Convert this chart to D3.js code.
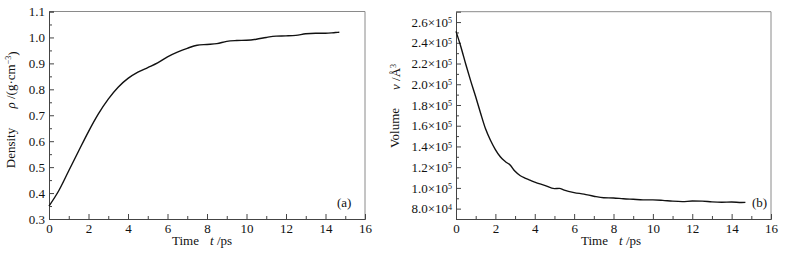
<!DOCTYPE html>
<html>
<head>
<meta charset="utf-8">
<script src="https://cdn.jsdelivr.net/npm/d3@7"></script>
<style>
    body { margin: 0; background: #fff; }
    svg text { font-family: "Liberation Serif", "Times New Roman", Times, serif; fill: #111; }
</style>
</head>
<body>
<svg id="chart" width="787" height="258"></svg>
<script>
(() => {

    // data
    const density_time = [0, 0.5, 1, 1.5, 2, 2.5, 3, 3.5, 4, 4.5, 5, 5.5, 6, 6.5, 7, 7.5, 8, 8.5, 9, 9.5, 10, 10.5, 11, 11.5, 12, 12.5, 13, 13.5, 14, 14.5, 14.7];
    const density_value = [0.350, 0.410, 0.486, 0.562, 0.637, 0.705, 0.762, 0.808, 0.842, 0.866, 0.884, 0.902, 0.925, 0.943, 0.958, 0.970, 0.973, 0.976, 0.985, 0.988, 0.989, 0.993, 1.000, 1.005, 1.006, 1.008, 1.014, 1.016, 1.016, 1.019, 1.020];

    const volume_time = [0, 0.25, 0.5, 0.75, 1, 1.25, 1.5, 1.75, 2, 2.25, 2.5, 2.75, 3, 3.25, 3.5, 3.75, 4, 4.5, 5, 5.25, 5.5, 6, 6.5, 7, 7.5, 8, 8.5, 9, 9.5, 10, 10.5, 11, 11.5, 12, 12.5, 13, 13.5, 14, 14.5, 14.7];
    const volume_value = [251000, 236000, 219000, 203000, 188000, 172000, 157000, 146000, 137000, 130000, 125500, 122000, 116000, 112000, 109500, 107500, 105500, 102500, 99300, 99500, 97800, 95500, 94000, 92000, 90500, 90300, 89500, 89000, 88500, 88500, 88000, 87200, 86800, 87300, 87200, 86500, 86200, 86400, 85900, 86000];

    const x_major = [0, 2, 4, 6, 8, 10, 12, 14, 16];
    const x_minor = [1, 3, 5, 7, 9, 11, 13, 15];
    const density_major = [0.3, 0.4, 0.5, 0.6, 0.7, 0.8, 0.9, 1.0, 1.1];
    const density_minor = [0.35, 0.45, 0.55, 0.65, 0.75, 0.85, 0.95, 1.05];
    const volume_major = [80000, 100000, 120000, 140000, 160000, 180000, 200000, 220000, 240000, 260000];
    const volume_minor = [70000, 90000, 110000, 130000, 150000, 170000, 190000, 210000, 230000, 250000];

    let svg = d3.select('#chart');

    svg.append('rect').attr('width', 787).attr('height', 258).attr('fill', '#fff');

    // draw one panel: frame, axes, ticks and curve
    function draw_panel(p) {
        let x_scale = d3.scaleLinear().domain([0, 16]).range([p.left, p.right]);
        let y_scale = d3.scaleLinear().domain(p.y_domain).range([p.bottom, p.top]);

        // frame (top and right)
        svg.append('path')
            .attr('d', `M${p.left},${p.top}H${p.right}V${p.bottom}`)
            .attr('fill', 'none')
            .attr('stroke', '#8a8a8a')
            .attr('stroke-width', 1);

        // x axis
        let gx = svg.append('g')
            .attr('transform', `translate(0, ${p.bottom})`)
            .call(d3.axisBottom(x_scale).tickValues(x_major).tickSize(-5).tickPadding(5).tickFormat(d3.format('d')));
        svg.append('g')
            .attr('transform', `translate(0, ${p.bottom})`)
            .call(d3.axisBottom(x_scale).tickValues(x_minor).tickSize(-3).tickFormat(''))
            .call((g) => g.select('.domain').remove());

        // y axis
        let gy = svg.append('g')
            .attr('transform', `translate(${p.left}, 0)`)
            .call(d3.axisLeft(y_scale).tickValues(p.y_major).tickSize(-5).tickPadding(4).tickFormat(p.y_format));
        svg.append('g')
            .attr('transform', `translate(${p.left}, 0)`)
            .call(d3.axisLeft(y_scale).tickValues(p.y_minor).tickSize(-3).tickFormat(''))
            .call((g) => g.select('.domain').remove());

        svg.selectAll('.domain, .tick line').attr('stroke', '#444').attr('stroke-width', 1);
        gx.selectAll('text').style('font-size', '13px').attr('fill', '#111');
        gy.selectAll('text').style('font-size', '13px').attr('fill', '#111');

        if (p.sci) {
            gy.selectAll('.tick text').each(function (d) {
                let exp = d >= 100000 ? 5 : 4;
                let mant = (d / Math.pow(10, exp)).toFixed(1);
                let t = d3.select(this).text('');
                t.append('tspan').text(mant + '×10');
                t.append('tspan').text(exp).attr('dy', '-0.45em').style('font-size', '8px');
            });
        }

        // curve
        let line = d3.line()
            .x((d, i) => x_scale(p.xs[i]))
            .y((d) => y_scale(d))
            .curve(d3.curveMonotoneX);

        svg.append('path')
            .datum(p.ys)
            .attr('d', line)
            .attr('fill', 'none')
            .attr('stroke', '#111')
            .attr('stroke-width', 1.4);

        // x label
        svg.append('text')
            .attr('x', p.time_x)
            .attr('y', 245)
            .style('font-size', '13px')
            .text('Time');
        let xl = svg.append('text')
            .attr('x', p.time_x + 38)
            .attr('y', 245)
            .style('font-size', '13px');
        xl.append('tspan').style('font-style', 'italic').text('t');
        xl.append('tspan').text(' /ps');

        // panel tag
        svg.append('text')
            .attr('x', p.tag_x)
            .attr('y', 207)
            .style('font-size', '13px')
            .text(p.tag);
    }

    draw_panel({
        left: 49, right: 365, top: 11.5, bottom: 219,
        y_domain: [0.3, 1.1], y_major: density_major, y_minor: density_minor,
        y_format: d3.format('.1f'), sci: false,
        xs: density_time, ys: density_value,
        time_x: 172, tag: '(a)', tag_x: 337
    });

    draw_panel({
        left: 456, right: 771, top: 11.7, bottom: 219,
        y_domain: [70000, 270000], y_major: volume_major, y_minor: volume_minor,
        y_format: (d) => d, sci: true,
        xs: volume_time, ys: volume_value,
        time_x: 581, tag: '(b)', tag_x: 752
    });

    // y labels
    svg.append('text')
        .attr('transform', 'translate(15, 148) rotate(-90)')
        .attr('text-anchor', 'middle')
        .style('font-size', '13px')
        .text('Density');
    let rl = svg.append('text')
        .attr('transform', 'translate(15, 80) rotate(-90)')
        .attr('text-anchor', 'middle')
        .style('font-size', '13px');
    rl.append('tspan').style('font-style', 'italic').text('ρ');
    rl.append('tspan').text(' /(g·cm');
    rl.append('tspan').text('−3').attr('dy', '-0.45em').style('font-size', '8px');
    rl.append('tspan').text(')').attr('dy', '0.45em');

    svg.append('text')
        .attr('transform', 'translate(399, 128) rotate(-90)')
        .attr('text-anchor', 'middle')
        .style('font-size', '13px')
        .text('Volume');
    let vl = svg.append('text')
        .attr('transform', 'translate(400, 77) rotate(-90)')
        .attr('text-anchor', 'middle')
        .style('font-size', '13px');
    vl.append('tspan').style('font-style', 'italic').text('v');
    vl.append('tspan').text(' /Å');
    vl.append('tspan').text('3').attr('dy', '-0.45em').style('font-size', '8px');

})();
</script>
</body>
</html>
